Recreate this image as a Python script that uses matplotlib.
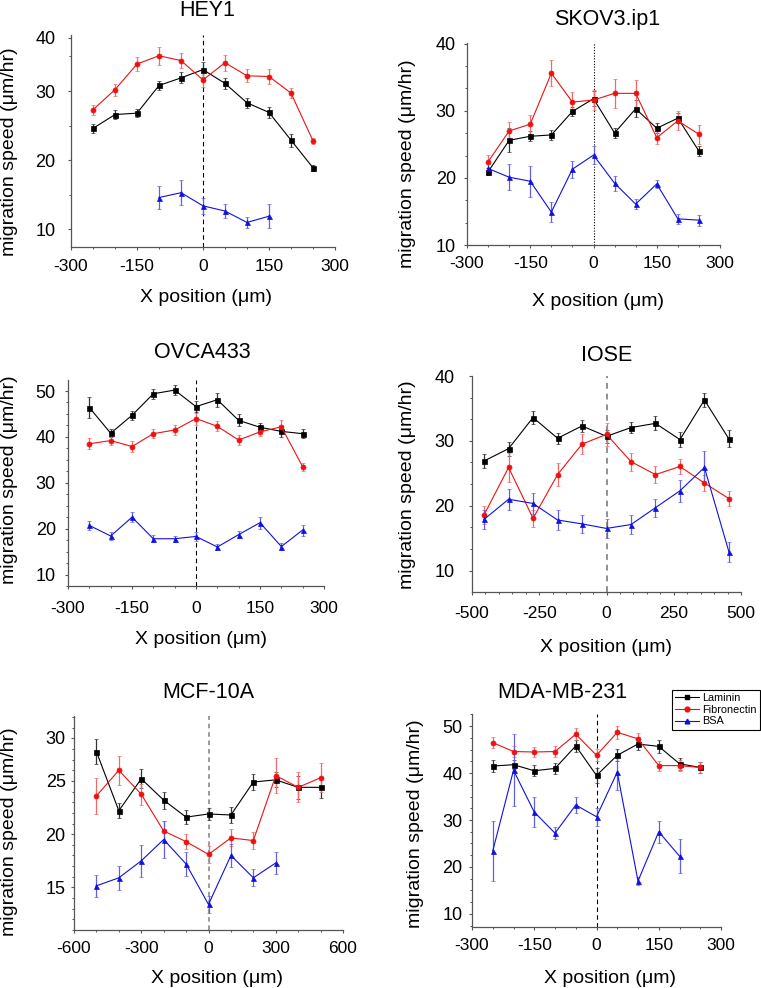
import matplotlib
matplotlib.use("Agg")
import matplotlib.pyplot as plt
from matplotlib.lines import Line2D
from matplotlib.ticker import FixedLocator, MultipleLocator

plt.rcParams["font.family"] = ["Liberation Sans", "DejaVu Sans"]
plt.rcParams["axes.unicode_minus"] = False

# ---- data ----
x50 = [-250, -200, -150, -100, -50, 0, 50, 100, 150, 200, 250]

hey1_lam = [24.6, 26.6, 26.8, 30.8, 31.9, 33.1, 31.1, 28.3, 26.9, 22.9, 18.9]
hey1_lam_err = [0.6, 0.65, 0.6, 0.7, 0.8, 1.1, 0.75, 0.7, 0.75, 0.95, 0.45]
hey1_fib = [27.3, 30.2, 33.9, 35.1, 34.4, 31.6, 34.1, 32.2, 32.1, 29.7, 22.8]
hey1_fib_err = [0.7, 0.85, 1.05, 1.3, 1.1, 1.05, 1.15, 0.95, 1.05, 0.7, 0.45]
hey1_bsa_x = [-100, -50, 0, 50, 100, 150]
hey1_bsa = [14.6, 15.3, 13.4, 12.65, 11.0, 11.9]
hey1_bsa_err = [1.7, 1.8, 1.15, 1.05, 0.8, 1.75]

skov_lam = [20.9, 25.6, 26.2, 26.4, 29.9, 31.8, 26.7, 30.3, 27.4, 28.9, 24.0]
skov_lam_err = [0.5, 1.8, 0.75, 0.75, 0.7, 1.1, 0.75, 1.25, 0.75, 0.75, 0.75]
skov_fib = [22.4, 27.0, 28.0, 35.6, 31.3, 31.6, 32.6, 32.6, 26.0, 28.5, 26.5]
skov_fib_err = [1.0, 1.4, 1.4, 1.9, 1.5, 1.5, 2.2, 2.0, 1.0, 1.4, 1.4]
skov_bsa = [21.4, 20.1, 19.5, 14.9, 21.3, 23.4, 19.2, 16.1, 19.1, 13.9, 13.7]
skov_bsa_err = [0.75, 1.9, 2.3, 1.5, 1.25, 1.4, 1.15, 0.8, 0.6, 0.75, 0.8]

ovca_lam = [46.4, 40.8, 44.7, 49.4, 50.2, 46.6, 48.1, 43.6, 42.1, 41.2, 40.7]
ovca_lam_err = [2.3, 0.9, 1.0, 1.1, 1.1, 1.2, 1.5, 1.3, 0.9, 1.2, 1.0]
ovca_fib = [38.5, 39.2, 37.9, 40.7, 41.5, 44.0, 42.3, 39.3, 41.1, 42.2, 33.5]
ovca_fib_err = [1.2, 1.0, 1.1, 1.0, 1.0, 1.3, 1.1, 1.1, 1.0, 1.4, 0.9]
ovca_bsa = [20.7, 18.4, 22.5, 17.8, 17.8, 18.3, 16.0, 18.7, 21.3, 16.1, 19.7]
ovca_bsa_err = [0.9, 0.8, 1.1, 0.8, 0.7, 0.9, 0.6, 0.8, 1.3, 0.8, 1.2]

iose_x = [-455, -364, -273, -182, -91, 0, 91, 182, 273, 364, 455]
iose_lam = [26.9, 28.8, 33.6, 30.4, 32.3, 30.7, 32.05, 32.7, 30.2, 36.3, 30.3]
iose_lam_err = [1.1, 1.1, 1.05, 0.85, 0.9, 1.0, 0.9, 1.1, 1.15, 1.15, 1.3]
iose_fib = [18.6, 25.9, 18.05, 24.8, 29.5, 31.0, 26.8, 24.8, 26.05, 23.5, 21.1]
iose_fib_err = [1.35, 2.2, 1.3, 1.75, 1.55, 1.8, 1.4, 1.35, 1.15, 1.25, 1.15]
iose_bsa = [17.9, 21.0, 20.35, 17.8, 17.2, 16.5, 17.1, 19.7, 22.3, 25.9, 12.9]
iose_bsa_err = [1.45, 1.6, 1.55, 1.6, 1.4, 1.4, 1.4, 1.4, 1.65, 2.55, 1.5]

mcf_x = [-500, -400, -300, -200, -100, 0, 100, 200, 300, 400, 500]
mcf_lam = [27.75, 22.2, 25.2, 23.2, 21.6, 21.9, 21.8, 24.9, 25.1, 24.4, 24.4]
mcf_lam_err = [1.2, 0.7, 0.9, 0.8, 0.65, 0.6, 0.75, 0.75, 0.7, 1.05, 1.0]
mcf_fib = [23.6, 26.0, 23.75, 20.3, 19.3, 18.1, 19.65, 19.4, 25.5, 24.4, 25.3]
mcf_fib_err = [1.7, 1.35, 1.0, 0.95, 0.7, 0.8, 0.8, 0.8, 1.65, 1.4, 1.35]
mcf_bsa_x = [-500, -400, -300, -200, -100, 0, 100, 200, 300]
mcf_bsa = [15.15, 15.9, 17.5, 19.5, 17.2, 13.4, 18.0, 15.9, 17.3]
mcf_bsa_err = [1.05, 1.15, 1.5, 1.75, 1.15, 0.8, 1.05, 0.8, 1.05]

mda_lam = [41.5, 41.8, 40.5, 41.0, 45.8, 39.5, 43.8, 46.2, 45.7, 42.0, 41.2]
mda_lam_err = [1.2, 1.0, 1.2, 1.1, 1.25, 1.6, 1.3, 1.25, 1.35, 1.3, 1.25]
mda_fib = [46.5, 44.6, 44.5, 44.6, 48.3, 43.8, 48.7, 47.3, 41.6, 41.6, 41.2]
mda_fib_err = [1.15, 1.15, 1.1, 1.1, 1.3, 1.25, 1.4, 1.25, 1.05, 1.15, 1.25]
mda_bsa_x = [-250, -200, -150, -100, -50, 0, 50, 100, 150, 200]
mda_bsa = [23.4, 40.6, 31.7, 27.2, 33.2, 30.7, 40.2, 17.0, 27.5, 22.3]
mda_bsa_err = [6.4, 7.7, 3.2, 1.3, 1.7, 1.9, 3.7, 0.95, 2.4, 3.6]

series_names = ["Laminin", "Fibronectin", "BSA"]

# ---- layout (pixels in a 761x988 canvas) ----
W, H = 761, 988
LAM = dict(color="#000000", ecolor="#333333", marker="s")
FIB = dict(color="#ee1111", ecolor="#f06a6a", marker="o")
BSA = dict(color="#1010e0", ecolor="#6060e0", marker="^")

panels = [
    dict(title="HEY1", box=(71, 35, 335, 247), title_xy=(207, 10),
         xlab_xy=(206, 298), ylab_xy=(10, 152),
         xlim=(-300, 300), xmajor=[-300, -150, 0, 150, 300], xminor=50,
         ylim=(7.45, 38.1), yticks=[10, 20, 30, 37.7], ylabels=["10", "20", "30", "40"],
         yminor=5, ypad=8.5, xpad=6, vline=dict(color="black", ls=(0, (4, 3)), lw=0.8),
         x=x50, lam=(hey1_lam, hey1_lam_err), fib=(hey1_fib, hey1_fib_err),
         bsa=(hey1_bsa_x, hey1_bsa, hey1_bsa_err)),
    dict(title="SKOV3.ip1", box=(467, 43, 720, 245), title_xy=(607, 20),
         xlab_xy=(598, 301), ylab_xy=(407, 164),
         xlim=(-300, 300), xmajor=[-300, -150, 0, 150, 300], xminor=50,
         ylim=(10, 40.1), yticks=[10, 20, 30, 40], ylabels=["10", "20", "30", "40"],
         yminor=10 / 3, ypad=5.5, xpad=5.3, vline=dict(color="black", ls=(0, (1, 1.5)), lw=0.8),
         x=x50, lam=(skov_lam, skov_lam_err), fib=(skov_fib, skov_fib_err),
         bsa=(x50, skov_bsa, skov_bsa_err)),
    dict(title="OVCA433", box=(68, 380, 324, 586), title_xy=(202, 352),
         xlab_xy=(201, 639), ylab_xy=(10, 480),
         xlim=(-300, 300), xmajor=[-300, -150, 0, 150, 300], xminor=50,
         ylim=(7.5, 52.4), yticks=[10, 20, 30, 40, 50], ylabels=["10", "20", "30", "40", "50"],
         yminor=2.5, ypad=6.3, xpad=8, vline=dict(color="black", ls=(0, (4, 3)), lw=0.8),
         x=x50, lam=(ovca_lam, ovca_lam_err), fib=(ovca_fib, ovca_fib_err),
         bsa=(x50, ovca_bsa, ovca_bsa_err)),
    dict(title="IOSE", box=(472, 376, 741, 592), title_xy=(607, 355),
         xlab_xy=(606, 648), ylab_xy=(407, 485),
         xlim=(-500, 500), xmajor=[-500, -250, 0, 250, 500], xminor=50,
         ylim=(6.7, 40), yticks=[10, 20, 30, 40], ylabels=["10", "20", "30", "40"],
         yminor=10 / 3, ypad=10, xpad=7.5, vline=dict(color="#909090", ls=(0, (3, 2.5)), lw=1.4),
         x=iose_x, lam=(iose_lam, iose_lam_err), fib=(iose_fib, iose_fib_err),
         bsa=(iose_x, iose_bsa, iose_bsa_err)),
    dict(title="MCF-10A", box=(74, 716, 343, 930), title_xy=(208, 693),
         xlab_xy=(217, 978), ylab_xy=(10, 832),
         xlim=(-600, 600), xmajor=[-600, -300, 0, 300, 600], xminor=100,
         ylim=(11.0, 31.1), yticks=[15, 20, 25, 29.06], ylabels=["15", "20", "25", "30"],
         yminor=1, ypad=3.5, xpad=5.3, vline=dict(color="#808080", ls=(0, (3, 2.5)), lw=1.1),
         x=mcf_x, lam=(mcf_lam, mcf_lam_err), fib=(mcf_fib, mcf_fib_err),
         bsa=(mcf_bsa_x, mcf_bsa, mcf_bsa_err)),
    dict(title="MDA-MB-231", box=(472, 714, 721, 927), title_xy=(562, 692),
         xlab_xy=(610, 978), ylab_xy=(416, 824),
         xlim=(-300, 300), xmajor=[-300, -150, 0, 150, 300], xminor=50,
         ylim=(7.2, 52.6), yticks=[10, 20, 30, 40, 50], ylabels=["10", "20", "30", "40", "50"],
         yminor=2.5, ypad=4.2, xpad=5.3, vline=dict(color="black", ls=(0, (4, 3)), lw=0.8),
         x=x50, lam=(mda_lam, mda_lam_err), fib=(mda_fib, mda_fib_err),
         bsa=(mda_bsa_x, mda_bsa, mda_bsa_err)),
]


def fx(px):
    return px / W


def fy(py):
    return 1 - py / H


def draw_series(ax, x, y, err, style):
    ax.errorbar(x, y, yerr=err, color=style["color"], ecolor=style["ecolor"],
                marker=style["marker"], markersize=3.6, lw=0.8, elinewidth=0.9,
                capsize=1.6, capthick=0.9, markeredgewidth=0.5)


fig = plt.figure(figsize=(W / 100, H / 100), dpi=100)
spine_col = "#555555"

for p in panels:
    x0, y0, x1, y1 = p["box"]
    ax = fig.add_axes([fx(x0), fy(y1), (x1 - x0) / W, (y1 - y0) / H])
    ax.axvline(0, zorder=1, **p["vline"])
    draw_series(ax, p["x"], p["lam"][0], p["lam"][1], LAM)
    draw_series(ax, p["x"], p["fib"][0], p["fib"][1], FIB)
    draw_series(ax, p["bsa"][0], p["bsa"][1], p["bsa"][2], BSA)

    ax.set_xlim(*p["xlim"])
    ax.set_ylim(*p["ylim"])
    ax.xaxis.set_major_locator(FixedLocator(p["xmajor"]))
    ax.set_xticklabels([str(v) for v in p["xmajor"]])
    ax.xaxis.set_minor_locator(MultipleLocator(p["xminor"]))
    ax.yaxis.set_major_locator(FixedLocator(p["yticks"]))
    ax.set_yticklabels(p["ylabels"])
    ax.yaxis.set_minor_locator(MultipleLocator(p["yminor"]))

    for side in ("top", "right"):
        ax.spines[side].set_visible(False)
    for side in ("left", "bottom"):
        ax.spines[side].set_color(spine_col)
        ax.spines[side].set_linewidth(0.9)
    ax.tick_params(which="major", direction="out", length=2.5, width=0.8, color=spine_col)
    ax.tick_params(which="minor", direction="out", length=1.6, width=0.7, color=spine_col)
    ax.tick_params(axis="y", which="major", pad=p["ypad"], labelsize=13)
    ax.tick_params(axis="x", which="major", pad=p["xpad"], labelsize=12.5)

    fig.text(fx(p["title_xy"][0]), fy(p["title_xy"][1]), p["title"],
             ha="center", va="center", fontsize=15.5)
    fig.text(fx(p["xlab_xy"][0]), fy(p["xlab_xy"][1]), "X position (\u03bcm)",
             ha="center", va="center", fontsize=14)
    fig.text(fx(p["ylab_xy"][0]), fy(p["ylab_xy"][1]), "migration speed (\u03bcm/hr)",
             ha="center", va="center", rotation=90, fontsize=14)

handles = [
    Line2D([], [], color=s["color"], marker=s["marker"], markersize=3.4, lw=0.8)
    for s in (LAM, FIB, BSA)
]
leg = fig.legend(handles, series_names, loc="upper left",
                 bbox_to_anchor=(fx(672), fy(690)), fontsize=7.8, frameon=True,
                 fancybox=False, edgecolor="black", framealpha=1,
                 handlelength=2.2, handletextpad=0.25, borderpad=0.3,
                 labelspacing=0.15, borderaxespad=0)
leg.get_frame().set_linewidth(0.8)

fig.savefig("out.png", dpi=100)
